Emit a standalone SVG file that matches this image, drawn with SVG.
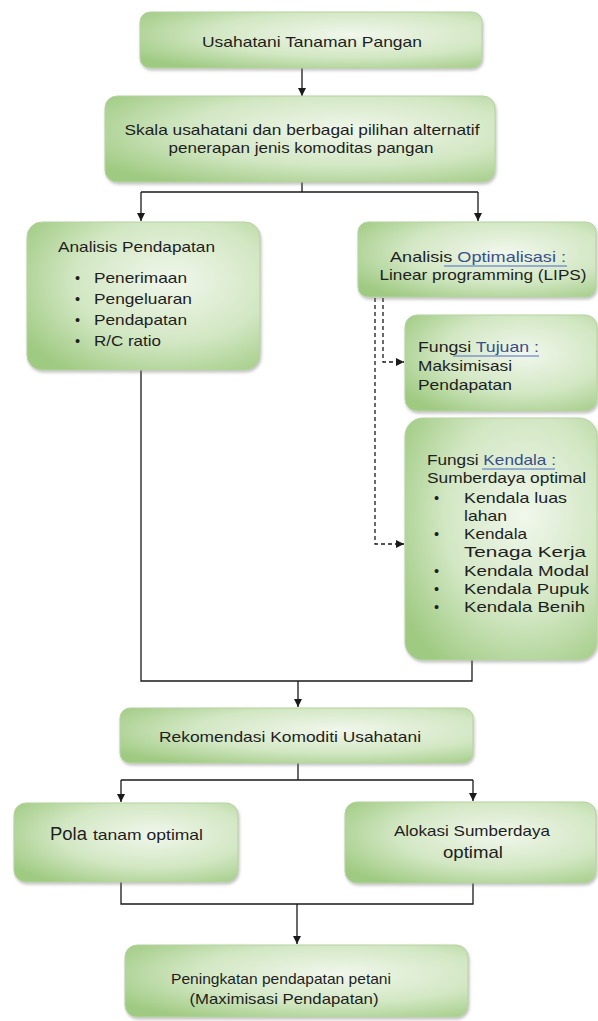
<svg xmlns="http://www.w3.org/2000/svg" width="598" height="1021" viewBox="0 0 598 1021">
<defs>
<radialGradient id="g" cx="0.62" cy="0.4" r="0.75">
<stop offset="0" stop-color="#f1f7ec"/>
<stop offset="0.55" stop-color="#d2e7c3"/>
<stop offset="1" stop-color="#9fca82"/>
</radialGradient>
<filter id="sh" x="-10%" y="-10%" width="125%" height="130%">
<feDropShadow dx="1" dy="2" stdDeviation="1.5" flood-color="#777" flood-opacity="0.45"/>
</filter>
<marker id="ar" viewBox="0 0 10 10" refX="10" refY="5" markerWidth="8" markerHeight="8" markerUnits="userSpaceOnUse" orient="auto">
<path d="M0,0 L10,5 L0,10 Z" fill="#1a1a1a"/>
</marker>
</defs>
<style>
.box{fill:url(#g);stroke:#b7d2a3;stroke-width:1;filter:url(#sh)}
.t{font-family:"Liberation Sans",Arial,sans-serif;font-size:14.5px;fill:#1e1e1e}
.m{text-anchor:middle}
.ln{fill:none;stroke:#1a1a1a;stroke-width:1.3}
.ar{marker-end:url(#ar)}
.ds{fill:none;stroke:#1a1a1a;stroke-width:1.3;stroke-dasharray:4,3}
.ul{stroke:#4a6cc4;stroke-width:1}
.bl{fill:#3a4f8a}
</style>

<g id="connectors">
<path class="ln ar" d="M302,68 V96"/>
<path class="ln" d="M302,182 V192 M141,192 H478"/>
<path class="ln ar" d="M141,192 V221"/>
<path class="ln ar" d="M478,192 V221"/>
<path class="ds ar" d="M383,298 V362 H404"/>
<path class="ds ar" d="M375,298 V544 H404"/>
<path class="ln" d="M141,370 V681 H472 V660"/>
<path class="ln ar" d="M298,681 V707"/>
<path class="ln" d="M298,763 V780 M121,780 H473"/>
<path class="ln ar" d="M121,780 V802"/>
<path class="ln ar" d="M473,780 V801"/>
<path class="ln" d="M121,882 V904 H473 V883"/>
<path class="ln ar" d="M297,904 V944"/>
</g>

<g id="n1">
<rect class="box" x="140" y="12" width="342" height="56" rx="10"/>
<text class="t m" x="312" y="47" textLength="220" lengthAdjust="spacingAndGlyphs">Usahatani Tanaman Pangan</text>
</g>

<g id="n2">
<rect class="box" x="105" y="96" width="390" height="86" rx="12"/>
<text class="t m" x="302" y="135" textLength="355" lengthAdjust="spacingAndGlyphs">Skala usahatani dan berbagai pilihan alternatif</text>
<text class="t m" x="301" y="153" textLength="265" lengthAdjust="spacingAndGlyphs">penerapan jenis komoditas pangan</text>
</g>

<g id="n3">
<rect class="box" x="27" y="222" width="233" height="148" rx="15"/>
<text class="t" x="58" y="252" textLength="157" lengthAdjust="spacingAndGlyphs">Analisis Pendapatan</text>
<text class="t" x="75" y="283">•</text>
<text class="t" x="94" y="283" textLength="93" lengthAdjust="spacingAndGlyphs">Penerimaan</text>
<text class="t" x="75" y="304">•</text>
<text class="t" x="94" y="304" textLength="98" lengthAdjust="spacingAndGlyphs">Pengeluaran</text>
<text class="t" x="75" y="325">•</text>
<text class="t" x="94" y="325" textLength="93" lengthAdjust="spacingAndGlyphs">Pendapatan</text>
<text class="t" x="75" y="346">•</text>
<text class="t" x="94" y="346" textLength="67" lengthAdjust="spacingAndGlyphs">R/C ratio</text>
</g>

<g id="n4">
<rect class="box" x="358" y="222" width="238" height="75" rx="10"/>
<text class="t m" x="478" y="262" textLength="176" lengthAdjust="spacingAndGlyphs">Analisis <tspan class="bl">Optimalisasi :</tspan></text>
<line class="ul" x1="444" y1="266" x2="567" y2="266"/>
<text class="t m" x="483" y="280" textLength="207" lengthAdjust="spacingAndGlyphs">Linear programming (LIPS)</text>
</g>

<g id="n5">
<rect class="box" x="405" y="315" width="192" height="96" rx="12"/>
<text class="t" x="418" y="352" textLength="121" lengthAdjust="spacingAndGlyphs">Fungsi <tspan class="bl">Tujuan :</tspan></text>
<line class="ul" x1="453" y1="356" x2="539" y2="356"/>
<text class="t" x="418" y="371" textLength="94" lengthAdjust="spacingAndGlyphs">Maksimisasi</text>
<text class="t" x="418" y="390" textLength="94" lengthAdjust="spacingAndGlyphs">Pendapatan</text>
</g>

<g id="n6">
<rect class="box" x="405" y="418" width="192" height="242" rx="18"/>
<text class="t" x="427" y="465" textLength="129" lengthAdjust="spacingAndGlyphs">Fungsi <tspan class="bl">Kendala :</tspan></text>
<line class="ul" x1="482" y1="469" x2="555" y2="469"/>
<text class="t" x="427" y="483" textLength="159" lengthAdjust="spacingAndGlyphs">Sumberdaya optimal</text>
<text class="t" x="434" y="503">•</text>
<text class="t" x="464" y="503" textLength="103" lengthAdjust="spacingAndGlyphs">Kendala luas</text>
<text class="t" x="464" y="521" textLength="43" lengthAdjust="spacingAndGlyphs">lahan</text>
<text class="t" x="434" y="539">•</text>
<text class="t" x="464" y="539" textLength="63" lengthAdjust="spacingAndGlyphs">Kendala</text>
<text class="t" x="464" y="557" textLength="122" lengthAdjust="spacingAndGlyphs">Tenaga Kerja</text>
<text class="t" x="434" y="576">•</text>
<text class="t" x="464" y="576" textLength="125" lengthAdjust="spacingAndGlyphs">Kendala Modal</text>
<text class="t" x="434" y="594">•</text>
<text class="t" x="464" y="594" textLength="125" lengthAdjust="spacingAndGlyphs">Kendala Pupuk</text>
<text class="t" x="434" y="612">•</text>
<text class="t" x="464" y="612" textLength="121" lengthAdjust="spacingAndGlyphs">Kendala Benih</text>
</g>

<g id="n7">
<rect class="box" x="120" y="708" width="353" height="55" rx="10"/>
<text class="t m" x="290" y="742" textLength="262" lengthAdjust="spacingAndGlyphs">Rekomendasi Komoditi Usahatani</text>
</g>

<g id="n8">
<rect class="box" x="14" y="803" width="224" height="79" rx="12"/>
<text class="t" x="50" y="840" style="font-size:17.5px" textLength="37" lengthAdjust="spacingAndGlyphs">Pola</text>
<text class="t" x="93" y="840" style="font-size:15px" textLength="110" lengthAdjust="spacingAndGlyphs">tanam optimal</text>
</g>

<g id="n9">
<rect class="box" x="345" y="802" width="251" height="81" rx="12"/>
<text class="t m" x="472" y="836" textLength="156" lengthAdjust="spacingAndGlyphs">Alokasi Sumberdaya</text>
<text class="t m" x="473" y="858" style="font-size:17px" textLength="60" lengthAdjust="spacingAndGlyphs">optimal</text>
</g>

<g id="n10">
<rect class="box" x="125" y="945" width="343" height="72" rx="12"/>
<text class="t m" x="281" y="984" textLength="220" lengthAdjust="spacingAndGlyphs">Peningkatan pendapatan petani</text>
<text class="t m" x="284" y="1004" textLength="189" lengthAdjust="spacingAndGlyphs">(Maximisasi Pendapatan)</text>
</g>
</svg>
